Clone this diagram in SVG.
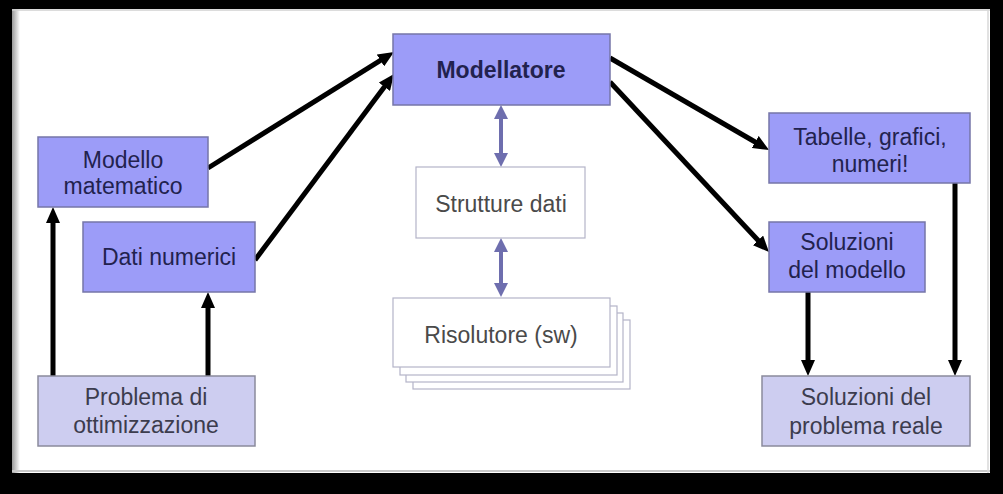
<svg xmlns="http://www.w3.org/2000/svg" width="1003" height="494" viewBox="0 0 1003 494">
  <style>
    .txt { font-family: "Liberation Sans", Arial, sans-serif; font-size: 23px; text-anchor: middle; }
    .blue rect { fill: #9c9cf8; stroke: #7676a8; stroke-width: 1.5; }
    .blue text { fill: #22224e; }
    .light rect { fill: #cdcdf0; stroke: #8a8a9c; stroke-width: 1.5; }
    .light text { fill: #3c3c4e; }
    .white rect { fill: #ffffff; stroke: #b4b4c8; stroke-width: 1.2; }
    .white text { fill: #4a4a4a; }
    .conn { stroke: #000; stroke-width: 5; fill: none; marker-end: url(#ah); }
    .dbl { stroke: #6e6eae; stroke-width: 4; fill: none; marker-start: url(#ph); marker-end: url(#ph); }
  </style>
  <defs>
    <marker id="ah" markerUnits="userSpaceOnUse" markerWidth="16" markerHeight="14" viewBox="0 0 16 14" refX="2" refY="7" orient="auto">
      <path d="M0,0 L16,7 L0,14 z" fill="#000"/>
    </marker>
    <marker id="ph" markerUnits="userSpaceOnUse" markerWidth="14" markerHeight="14" viewBox="0 0 14 14" refX="2" refY="7" orient="auto-start-reverse">
      <path d="M0,0 L14,7 L0,14 z" fill="#6e6eae"/>
    </marker>
    <linearGradient id="lg" x1="0" y1="0" x2="1" y2="0">
      <stop offset="0" stop-color="#9a9a9a"/>
      <stop offset="1" stop-color="#ffffff"/>
    </linearGradient>
  </defs>

  <!-- frame -->
  <rect x="0" y="0" width="1003" height="494" fill="#000"/>
  <rect x="12" y="9" width="978" height="464" fill="#fff"/>
  <rect x="12" y="9" width="8" height="464" fill="url(#lg)"/>
  <line x1="12" y1="10" x2="990" y2="10" stroke="#d0d0d0" stroke-width="1.5"/>
  <line x1="12" y1="471" x2="990" y2="471" stroke="#c8c8c8" stroke-width="2"/>
  <line x1="988" y1="9" x2="988" y2="473" stroke="#d8d8d8" stroke-width="1.5"/>

  <!-- connectors -->
  <g id="connectors">
    <line class="conn" x1="208" y1="168" x2="382.1" y2="59.4"/>
    <line class="conn" x1="255" y1="260" x2="385.6" y2="85.2"/>
    <line class="conn" x1="610" y1="58" x2="756.9" y2="143"/>
    <line class="conn" x1="610" y1="82" x2="759.4" y2="241.8"/>
    <line class="conn" x1="53" y1="376" x2="53" y2="221"/>
    <line class="conn" x1="208" y1="376" x2="208" y2="306"/>
    <line class="conn" x1="808" y1="292" x2="808" y2="362"/>
    <line class="conn" x1="955" y1="183" x2="955" y2="362"/>
    <line class="dbl" x1="501" y1="117" x2="501" y2="155"/>
    <line class="dbl" x1="501" y1="250" x2="501" y2="285"/>
  </g>

  <g id="modellatore" class="blue">
    <rect x="393" y="34" width="217" height="71"/>
    <text class="txt" x="501" y="78" font-weight="bold" font-size="24">Modellatore</text>
  </g>

  <g id="strutture" class="white">
    <rect x="416" y="167" width="169" height="71"/>
    <text class="txt" x="501" y="212">Strutture dati</text>
  </g>

  <g id="risolutore" class="white">
    <rect x="413" y="320" width="217" height="69"/>
    <rect x="406" y="313" width="217" height="69"/>
    <rect x="400" y="306" width="217" height="69"/>
    <rect x="393" y="298" width="217" height="69"/>
    <text class="txt" x="501" y="343">Risolutore (sw)</text>
  </g>

  <g id="modello-matematico" class="blue">
    <rect x="38" y="137" width="170" height="70"/>
    <text class="txt" x="123" y="168">Modello</text>
    <text class="txt" x="123" y="194">matematico</text>
  </g>

  <g id="dati-numerici" class="blue">
    <rect x="83" y="222" width="172" height="70"/>
    <text class="txt" x="169" y="265">Dati numerici</text>
  </g>

  <g id="problema" class="light">
    <rect x="38" y="376" width="217" height="70"/>
    <text class="txt" x="146" y="405">Problema di</text>
    <text class="txt" x="146" y="433">ottimizzazione</text>
  </g>

  <g id="tabelle" class="blue">
    <rect x="769" y="113" width="201" height="70"/>
    <text class="txt" x="870" y="145">Tabelle, grafici,</text>
    <text class="txt" x="870" y="172">numeri!</text>
  </g>

  <g id="soluzioni-modello" class="blue">
    <rect x="769" y="222" width="156" height="70"/>
    <text class="txt" x="847" y="250">Soluzioni</text>
    <text class="txt" x="847" y="278">del modello</text>
  </g>

  <g id="soluzioni-reale" class="light">
    <rect x="762" y="376" width="208" height="70"/>
    <text class="txt" x="866" y="405">Soluzioni del</text>
    <text class="txt" x="866" y="434">problema reale</text>
  </g>
</svg>
